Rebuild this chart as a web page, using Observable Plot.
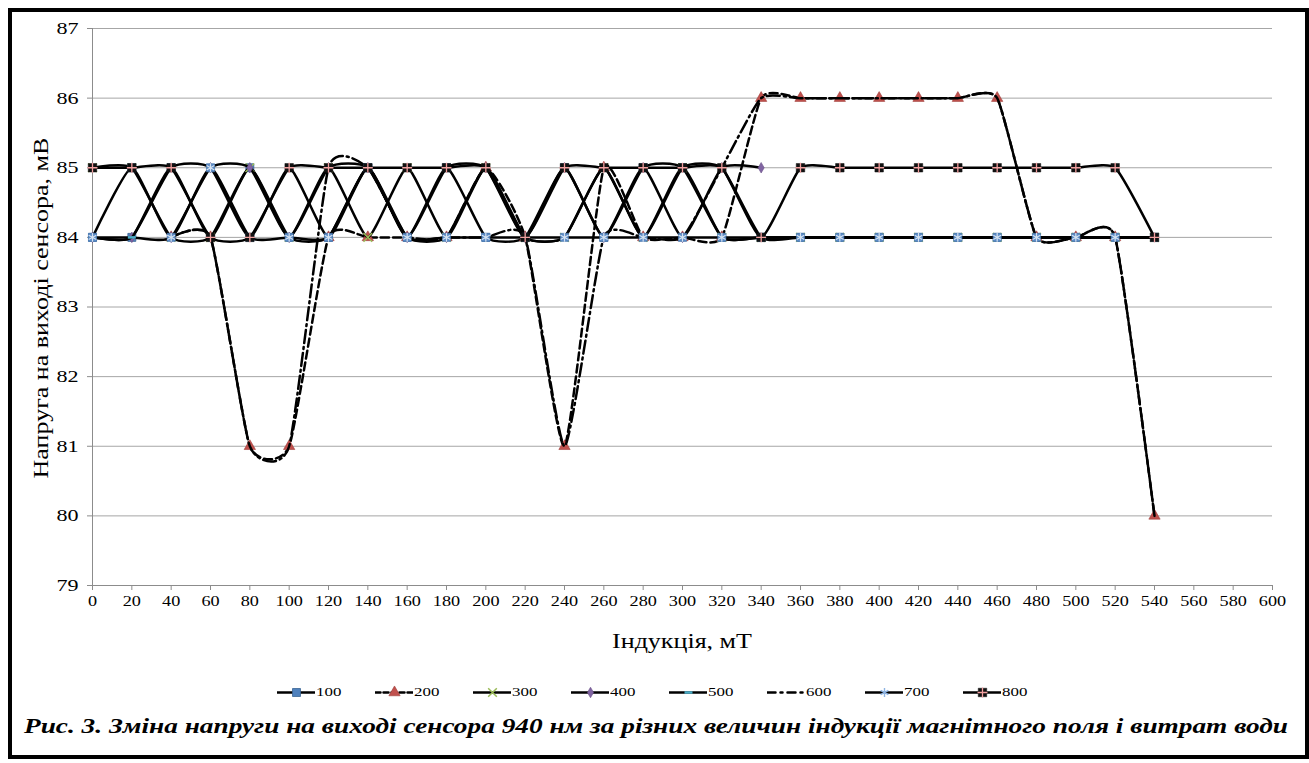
<!DOCTYPE html>
<html><head><meta charset="utf-8">
<script src="https://cdn.jsdelivr.net/npm/d3@7"></script>
<script src="https://cdn.jsdelivr.net/npm/@observablehq/plot@0.6"></script>
<style>
body{margin:0;background:#fff;width:1309px;height:763px;position:relative;overflow:hidden;font-family:"Liberation Serif","Times New Roman",serif;color:#000}
#frame{position:absolute;left:8px;top:8px;width:1293px;height:743px;border:4px solid #000;pointer-events:none}
#chart{position:absolute;left:0;top:0}
#ytitle{position:absolute;left:41px;top:308px;transform:translate(-50%,-50%) rotate(-90deg) scaleX(1.3);white-space:nowrap;font-size:20px}
#xtitle{position:absolute;left:682px;top:630px;transform:translateX(-50%) scaleX(1.3);white-space:nowrap;font-size:20px}
#legend{position:absolute;left:0;width:1300px;top:684px;display:flex;justify-content:center;gap:37px;align-items:center}
#legend .item{display:flex;align-items:center;gap:1px}
#legend span{display:inline-block;font-size:13px;transform:scaleX(1.3);transform-origin:left center;width:22px}
#caption{position:absolute;left:656px;top:714px;transform:translateX(-50%) scaleX(1.3);white-space:nowrap;font-size:21px;font-weight:bold;font-style:italic}
</style></head>
<body>
<div id="chart"></div>
<div id="ytitle">Напруга на виході сенсора, мВ</div>
<div id="xtitle">Індукція, мТ</div>
<div id="legend"></div>
<div id="caption">Рис. 3. Зміна напруги на виході сенсора 940 нм за різних величин індукції магнітного поля і витрат води</div>
<div id="frame"></div>
<script>
// Induction, mT
const xValues = [0,20,40,60,80,100,120,140,160,180,200,220,240,260,280,300,320,340,360,380,400,420,440,460,480,500,520,540];
// Sensor voltage, mV, per water flow series
const s100 = [84,84,85,84,85,84,84,85,84,85,84,84,85,84,85,85,84,84,84,84,84,84,84,84,84,84,84,84];
const s200 = [null,null,84,84,81,81,84,84,84,84,85,84,81,85,84,84,84,86,86,86,86,86,86,86,84,84,84,80];
const s300 = [85,85,84,84,85,84,85,84,85,84,85,84,84,85,84,85,84,84,84,84,84,84,84,84,84,84,84,84];
const s400 = [84,84,84,85,85,84,85,85,84,84,85,84,85,84,85,84,85,85,null,null,null,null,null,null,null,null,null,null];
const s500 = [84,84,85,85,84,85,84,85,84,85,85,84,84,85,84,85,85,84,84,84,84,84,84,84,84,84,84,84];
const s600 = [null,null,84,84,81,81,85,85,84,84,84,84,81,84,84,84,85,86,86,86,86,86,86,86,84,84,84,80];
const s700 = [84,85,84,85,84,84,84,85,84,84,84,84,84,84,84,84,84,84,84,84,84,84,84,84,84,84,84,84];
const s800 = [85,85,85,84,84,85,85,85,85,85,85,84,85,85,85,85,85,84,85,85,85,85,85,85,85,85,85,84];
const seriesNames = ["100","200","300","400","500","600","700","800"];
const seriesValues = [s100,s200,s300,s400,s500,s600,s700,s800];
const xTicks = [0,20,40,60,80,100,120,140,160,180,200,220,240,260,280,300,320,340,360,380,400,420,440,460,480,500,520,540,560,580,600];
const yTicks = [79,80,81,82,83,84,85,86,87];

const FONT = "Liberation Serif, Times New Roman, serif";
const dashSym = {draw(ctx, size){ const w = Math.sqrt(size)*1.0, h = w*0.32; ctx.rect(-w/2,-h/2,w,h); }};
const styles = {
  "100": {dash:null, legendDash:null, markers:[{symbol:"square", r:4.5, fill:"#4F81BD", stroke:"#3A6494", strokeWidth:0.8}]},
  "200": {dash:"8,4", legendDash:"5,3", markers:[{symbol:"triangle", r:4.2, fill:"#C0504D", stroke:"#A03E3B", strokeWidth:0.6}]},
  "300": {dash:null, legendDash:null, markers:[{symbol:"times", r:4, fill:"none", stroke:"#9BBB59", strokeWidth:1.5}]},
  "400": {dash:null, legendDash:null, markers:[{symbol:"diamond", r:3.2, fill:"#8064A2", stroke:"#6A5088", strokeWidth:0.6}]},
  "500": {dash:null, legendDash:null, markers:[{symbol:dashSym, r:4.5, fill:"#4BACC6", stroke:"none", strokeWidth:0}]},
  "600": {dash:"13,4,2,4", legendDash:"8,5,2,5", markers:[]},
  "700": {dash:null, legendDash:null, markers:[{symbol:"square", r:4.6, fill:"#5B8BC6", stroke:"#4A78B0", strokeWidth:0.6},{symbol:"asterisk", r:4.2, fill:"none", stroke:"#D6E2F0", strokeWidth:1.2}],
          legendMarkers:[{symbol:"asterisk", r:4.2, fill:"none", stroke:"#8EB4E3", strokeWidth:1.4}]},
  "800": {dash:null, legendDash:null, markers:[{symbol:"square", r:4.8, fill:"#111", stroke:"#111", strokeWidth:0.5},{symbol:"plus", r:3.3, fill:"none", stroke:"#F2A0A0", strokeWidth:1.3}]}
};

const data = [];
seriesNames.forEach((name, i) => {
  xValues.forEach((x, j) => data.push({series: name, x, y: seriesValues[i][j]}));
});

const marks = [
  Plot.gridY(yTicks, {stroke:"#a6a6a6", strokeOpacity:1, strokeWidth:1}),
  Plot.ruleY([79], {stroke:"#8c8c8c"}),
  Plot.ruleX([0], {stroke:"#8c8c8c"}),
  Plot.axisX(xTicks, {tickSize:5, tickPadding:6, stroke:"#8c8c8c", fill:"#000", fontSize:14, fontFamily:FONT, tickFormat: d => String(d), label:null}),
  Plot.axisY(yTicks, {tickSize:5, tickPadding:9, stroke:"#8c8c8c", fill:"#000", fontSize:17, fontFamily:FONT, tickFormat: d => String(d), label:null})
];
seriesNames.forEach(name => {
  const rows = data.filter(d => d.series === name);
  const st = styles[name];
  marks.push(Plot.line(rows, {x:"x", y:"y", curve:"cardinal", tension:0.5, stroke:"#000", strokeWidth:2.5, strokeDasharray: st.dash || undefined}));
  st.markers.forEach(m => {
    marks.push(Plot.dot(rows.filter(d => d.y != null), {x:"x", y:"y", symbol: m.symbol, r: m.r, fill: m.fill, stroke: m.stroke, strokeWidth: m.strokeWidth}));
  });
});

const chart = Plot.plot({
  width: 1309, height: 660,
  marginLeft: 92, marginRight: 37, marginTop: 28, marginBottom: 75,
  style: `font-family: ${FONT}; background: transparent; color: #000;`,
  x: {type:"linear", domain:[0,600]},
  y: {type:"linear", domain:[79,87]},
  marks
});
document.getElementById("chart").appendChild(chart);
// horizontally stretch the tick labels like the reference typography
chart.querySelectorAll("g[aria-label$='tick label'] text").forEach(t => {
  const w = t.getComputedTextLength();
  if (w > 0) {
    t.setAttribute("textLength", (w * 1.3).toFixed(1));
    t.setAttribute("lengthAdjust", "spacingAndGlyphs");
  }
});

// Legend
const legend = document.getElementById("legend");
seriesNames.forEach(name => {
  const st = styles[name];
  const item = document.createElement("div");
  item.className = "item";
  const ms = st.legendMarkers || st.markers;
  const sw = Plot.plot({
    width: 38, height: 14, margin: 0,
    x: {domain:[0,1], axis:null}, y: {domain:[0,1], axis:null},
    style: {background:"transparent"},
    marks: [
      Plot.line([{x:0,y:0.5},{x:1,y:0.5}], {x:"x", y:"y", stroke:"#000", strokeWidth:2.5, strokeDasharray: st.legendDash || undefined}),
      ...ms.map(m => Plot.dot([{x:0.5,y:0.5}], {x:"x", y:"y", symbol:m.symbol, r:m.r, fill:m.fill, stroke:m.stroke, strokeWidth:m.strokeWidth}))
    ]
  });
  item.appendChild(sw);
  const lab = document.createElement("span");
  lab.textContent = name;
  item.appendChild(lab);
  legend.appendChild(item);
});
</script>
</body></html>
